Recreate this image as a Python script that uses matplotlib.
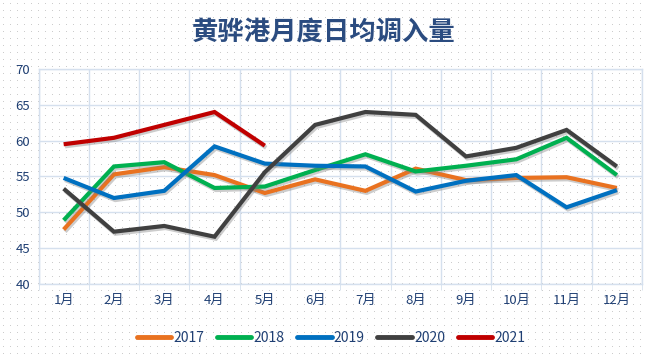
import numpy as np
import matplotlib
matplotlib.use("Agg")
import matplotlib.pyplot as plt
import matplotlib.patheffects as pe

plt.rcParams['font.family'] = ['Noto Sans CJK SC', 'DejaVu Sans']

months = ['1月', '2月', '3月', '4月', '5月', '6月', '7月', '8月', '9月', '10月', '11月', '12月']
y2017 = [47.6, 55.3, 56.3, 55.2, 52.7, 54.6, 53.0, 56.1, 54.5, 54.8, 54.9, 53.4]
y2018 = [48.9, 56.4, 57.0, 53.4, 53.6, 55.9, 58.1, 55.7, 56.5, 57.4, 60.4, 55.2]
y2019 = [54.8, 52.0, 53.0, 59.2, 56.8, 56.5, 56.4, 52.9, 54.4, 55.2, 50.7, 53.1]
y2020 = [53.3, 47.3, 48.1, 46.6, 55.6, 62.2, 64.0, 63.6, 57.8, 59.0, 61.5, 56.4]
y2021 = [59.5, 60.4, 62.2, 64.0, 59.3]

series = [
    ('2017', y2017, '#E97220'),
    ('2018', y2018, '#00B050'),
    ('2019', y2019, '#0070C0'),
    ('2020', y2020, '#404040'),
    ('2021', y2021, '#C00000'),
]

W, H = 647, 357
fig = plt.figure(figsize=(W / 100, H / 100), dpi=100)

# fond pointillé
bg = np.ones((H, W, 3))
bg[3::7, 3::7] = 0.80
fig.figimage(bg, 0, 0, zorder=-10)

ax = fig.add_axes([38.5 / W, 1 - 284 / H, 603.5 / W, 215 / H])
ax.set_zorder(2)
ax.set_facecolor('none')

x = np.arange(len(months))
shadow = [pe.SimpleLineShadow(offset=(1.0, -1.5), shadow_color='#808080', alpha=0.4), pe.Normal()]
for name, vals, col in series:
    ax.plot(x[:len(vals)], vals, color=col, lw=3.0, label=name,
            solid_capstyle='butt', solid_joinstyle='miter', path_effects=shadow, zorder=3)

ax.set_xlim(-0.5, 11.5)
ax.set_ylim(40, 70)
ax.set_yticks(range(40, 71, 5))
ax.set_xticks(x)
ax.set_xticklabels(months)
ax.set_xticks(np.arange(-0.5, 12, 1), minor=True)

gc = '#D5E0EE'
ax.grid(axis='y', color=gc, lw=1.0, zorder=1)
ax.grid(axis='x', which='minor', color=gc, lw=1.0, zorder=1)
for s in ax.spines.values():
    s.set_color(gc)
    s.set_linewidth(1.0)

tc = '#1F3F73'
ax.tick_params(axis='y', length=0, labelsize=9.5, labelcolor=tc, pad=6)
ax.tick_params(axis='x', which='major', length=0, labelsize=9.5, labelcolor=tc, pad=7)
ax.tick_params(axis='x', which='minor', length=4, color=gc, direction='out')

fig.text(0.5, 1 - 32 / H, '黄骅港月度日均调入量', ha='center', va='center',
         fontsize=19, fontweight='bold', color='#2B4C80')

leg = fig.legend(loc='center', bbox_to_anchor=(331 / W, 1 - 338 / H), ncol=5, frameon=False,
                 fontsize=10, handlelength=2.5, handletextpad=0.15, columnspacing=0.9)
for t in leg.get_texts():
    t.set_color(tc)
for h in leg.get_lines():
    h.set_path_effects([])
    h.set_linewidth(3.5)
    h.set_solid_capstyle('round')

fig.savefig('out.png', dpi=100)
